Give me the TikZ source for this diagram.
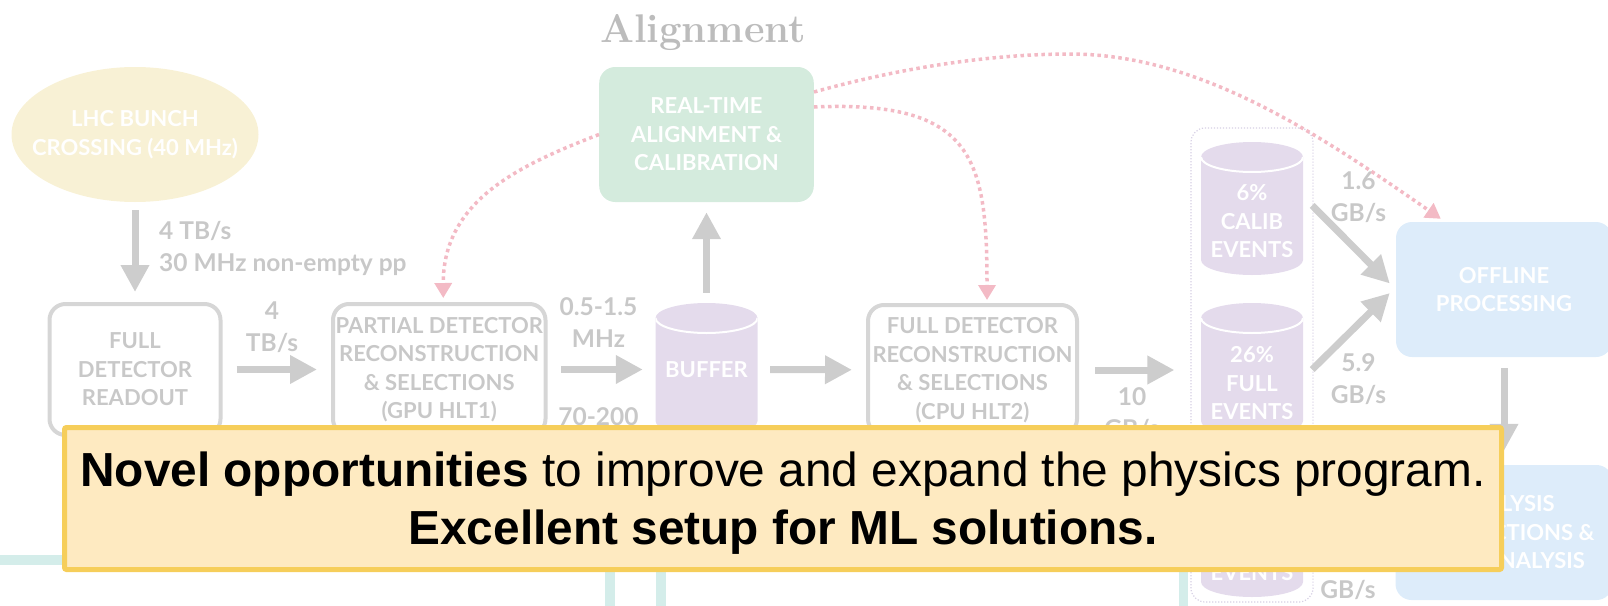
\documentclass[tikz,border=0pt]{standalone}
\usepackage{fontspec}
\newfontfamily\lato{Lato}
\newfontfamily\arialfont{Liberation Sans}
\usetikzlibrary{arrows.meta,shapes.geometric,calc}

\definecolor{arrowgray}{RGB}{205,205,205}
\definecolor{boxline}{RGB}{214,214,214}
\definecolor{textgray}{RGB}{200,200,200}
\definecolor{titlegray}{RGB}{188,188,188}
\definecolor{crossfill}{RGB}{248,241,213}
\definecolor{alignfill}{RGB}{212,235,221}
\definecolor{storefill}{RGB}{228,219,236}
\definecolor{offlinefill}{RGB}{221,236,250}
\definecolor{feedpink}{RGB}{243,186,197}
\definecolor{tealline}{RGB}{212,237,234}
\definecolor{noteback}{RGB}{254,234,193}
\definecolor{noteedge}{RGB}{246,206,90}
\definecolor{streamline}{RGB}{214,208,228}

\begin{document}
\begin{tikzpicture}[x=1pt, y=-1pt,
  boxfont/.style={font=\lato\bfseries\fontsize{22}{28.5}\selectfont},
  stagebox/.style={boxfont, draw=boxline, line width=4pt, rounded corners=16pt,
    text=textgray, align=center, inner sep=0pt},
  softbox/.style={boxfont, rounded corners=16pt, text=white, align=center, inner sep=0pt,
    minimum height=135pt},
  storage/.style={minimum width=102pt, minimum height=133pt, inner sep=0pt,
    path picture={
      \fill[storefill] ([yshift=-15pt]path picture bounding box.north west)
        -- ([yshift=15pt]path picture bounding box.south west)
        arc[start angle=180, end angle=360, x radius=51pt, y radius=15pt]
        -- ([yshift=-15pt]path picture bounding box.north east)
        arc[start angle=0, end angle=180, x radius=51pt, y radius=15pt] -- cycle;
      \draw[white, line width=2pt] ([yshift=-15pt]path picture bounding box.north west)
        arc[start angle=180, end angle=360, x radius=51pt, y radius=15pt];
    }},
  whitetext/.style={boxfont, text=white, align=center, inner sep=0pt},
  flowlabel/.style={font=\lato\bfseries\fontsize{24.5}{32}\selectfont, text=textgray,
    align=center, inner sep=0pt},
  bigarrow/.style={draw=arrowgray, line width=7pt, -{Triangle[width=27pt,length=27pt]}},
  feedback/.style={draw=feedpink, line width=3.5pt, dash pattern=on 3.5pt off 3.5pt,
    -{Triangle[width=17pt,length=15pt]}},
  tealbar/.style={draw=tealline, line width=10pt},
]
\useasboundingbox (0,0) rectangle (1608,605);
\clip (0,0) rectangle (1608,605);

% fragments of the lower part of the flow
\draw[tealbar] (-5,560) -- (90,560);
\draw[tealbar] (610,560) -- (610,612);
\draw[tealbar] (661,560) -- (661,612);
\draw[tealbar, line width=9pt] (1183,560) -- (1183,612);

% title
\node[font=\bfseries\fontsize{40}{40}\selectfont, text=titlegray, anchor=base, inner sep=0pt]
  (title) at (703,42) {Alignment};

% source and trigger stages
\node[ellipse, fill=crossfill, minimum width=247pt, minimum height=135pt, inner sep=0pt]
  (lhc) at (135,134.5) {};
\node[whitetext] (lhc-t) at (lhc.center) {LHC BUNCH\\CROSSING (40 MHz)};
\node[stagebox, minimum width=171pt, minimum height=131pt] (readout) at (135,369.5)
  {FULL\\DETECTOR\\READOUT};
\node[stagebox, minimum width=212.5pt, minimum height=131pt] (partial) at (439.25,369.5)
  {PARTIAL DETECTOR\\RECONSTRUCTION\\\& SELECTIONS\\(GPU HLT1)};
\node[storage] (buffer) at (706.5,369.5) {};
\node[whitetext] (buffer-t) at (buffer.center) {BUFFER};
\node[softbox, fill=alignfill, minimum width=214.6pt] (align) at (706.5,134.5)
  {REAL-TIME\\ALIGNMENT \&\\CALIBRATION};
\node[stagebox, minimum width=209pt, minimum height=130pt] (full) at (972.5,370)
  {FULL DETECTOR\\RECONSTRUCTION\\\& SELECTIONS\\(CPU HLT2)};

% output streams
\node[draw=streamline, line width=1.2pt, dash pattern=on 1.2pt off 1.8pt, rounded corners=14pt,
  minimum width=122pt, minimum height=474pt, inner sep=0pt] (streams) at (1252,365) {};
\node[storage] (calib) at (1252,208.5) {};
\node[whitetext] (calib-t) at ($(calib.center)+(0,13)$) {6\%\\CALIB\\EVENTS};
\node[storage] (fullev) at (1252,369.5) {};
\node[whitetext] (fullev-t) at ($(fullev.center)+(0,14)$) {26\%\\FULL\\EVENTS};
\node[storage] (turbo) at (1252,530.5) {};
\node[whitetext] (turbo-t) at ($(turbo.center)+(0,42)$) {EVENTS};

% offline side
\node[softbox, fill=offlinefill, minimum width=216pt] (offline) at (1504,289.5)
  {OFFLINE\\PROCESSING};
\node[softbox, fill=offlinefill, minimum width=217pt] (analysis) at (1504,532.5)
  {ANALYSIS\\PRODUCTIONS \&\\USER ANALYSIS};

% data flow
\draw[bigarrow, shorten <=8pt, shorten >=10pt] (lhc) -- (readout);
\draw[bigarrow, shorten <=14pt, shorten >=14pt] (readout) -- (partial);
\draw[bigarrow, shorten <=13.5pt, shorten >=12.5pt] (partial) -- (buffer);
\draw[bigarrow, shorten <=10pt, shorten >=10pt] (buffer) -- (align);
\draw[bigarrow, shorten <=12.5pt, shorten >=14pt] (buffer) -- (full);
\draw[bigarrow, shorten <=16pt, shorten >=16pt] (full.east) -- (full.east -| streams.west);
\draw[bigarrow] ($(calib.east)+(9,-3)$) -- ($(offline.west)+(-6,-6)$);
\draw[bigarrow] ($(fullev.east)+(9,0)$) -- ($(offline.west)+(-6,3.5)$);
\draw[bigarrow, shorten <=11pt, shorten >=14pt] (offline) -- (analysis);

% rates
\node[flowlabel, anchor=west, align=left] (bxlab) at (159,248.5) {4 TB/s\\30 MHz non-empty pp};
\node[flowlabel] (rolab) at (272,327.5) {4\\TB/s};
\node[flowlabel] (h1lab) at (598.5,322.5) {0.5-1.5\\MHz};
\node[flowlabel] (h1lab-b) at (598.5,417) {70-200};
\node[flowlabel] (h2lab) at (1132,413) {10\\GB/s};
\node[flowlabel] (callab) at (1358.5,197.5) {1.6\\GB/s};
\node[flowlabel] (fulllab) at (1358.5,379.5) {5.9\\GB/s};
\node[flowlabel] (turbolab) at (1348,590) {GB/s};

% calibration feedback
\draw[feedback] (align.west) .. controls (520,165) and (443,200) .. ($(partial.north)+(4,-4)$);
\draw[feedback] ($(align.east)+(0,-27.5)$) .. controls (975,100) and (987,160)
  .. ($(full.north)+(14.5,-3)$);
\draw[feedback] ($(align.east)+(0,-42.5)$) .. controls (900,68) and (990,54) .. (1070,54)
  .. controls (1200,54) and (1320,135) .. ($(offline.north west)+(45,-3)$);

% message box
\node[fill=noteback, draw=noteedge, line width=5pt, rounded corners=2pt,
  minimum width=1437pt, minimum height=142pt, inner sep=0pt] (callout) at (783,498.5) {};
\node[font=\arialfont\fontsize{47.8}{58}\selectfont, align=center, inner sep=0pt]
  (msg) at ($(callout.center)+(0,5)$)
  {{\bfseries Novel opportunities} to improve and expand the physics program.\\
   {\bfseries Excellent setup for ML solutions.}};
\end{tikzpicture}
\end{document}
